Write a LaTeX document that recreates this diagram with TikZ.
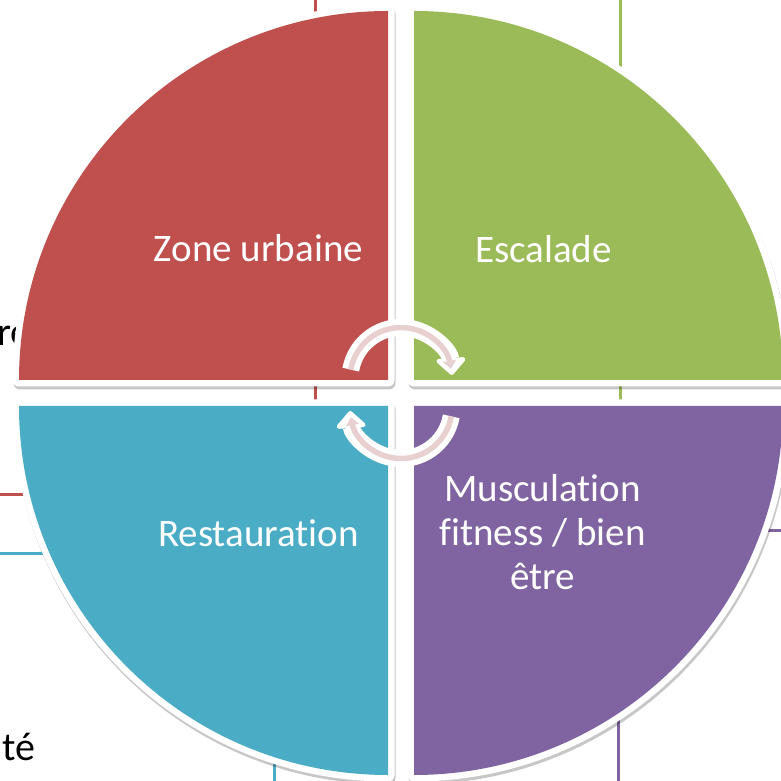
\documentclass[tikz,border=0pt]{standalone}
\usepackage{fontspec}
\setmainfont{Carlito}[Ligatures=NoCommon]
\usetikzlibrary{arrows.meta,shadows}
\definecolor{zonered}{RGB}{192,80,77}
\definecolor{escgreen}{RGB}{155,187,89}
\definecolor{restblue}{RGB}{75,172,198}
\definecolor{muscpurple}{RGB}{128,100,162}
\definecolor{arrowpink}{RGB}{232,208,208}
\begin{document}
\begin{tikzpicture}[x=1pt, y=1pt,
  quarter/.style={drop shadow={shadow xshift=1pt, shadow yshift=-3pt,
      opacity=.22, fill=black, draw=black, line width=13pt, line join=round},
    preaction={draw=white, line width=13pt, line join=round}, fill=#1},
  quartertext/.style={text=white, font=\fontsize{39}{44}\selectfont,
    align=center, inner sep=0pt},
  backbox/.style={draw=#1, line width=3pt},
  backtext/.style={font=\fontsize{40}{48}\selectfont, anchor=base west, inner sep=0pt},
  arrowband/.style={draw=white, line width=17pt,
    -{Triangle[width=34pt, length=18pt, round]}},
  arrowstripe/.style={draw=arrowpink, line width=5.5pt,
    -{Triangle[width=13pt, length=8pt]}}]
  \useasboundingbox (0,0) rectangle (781,781);
  \clip (0,0) rectangle (781,781);
  %% boxes behind the circle
  \draw[backbox=zonered] (-10,791) rectangle (315,286);
  \draw[backbox=escgreen] (620,791) rectangle (791,311);
  \draw[backbox=restblue] (-10,227) rectangle (274,-10);
  \draw[backbox=muscpurple] (618,250) rectangle (791,-10);
  \node[backtext] (hiddentop) at (-3,435) {re};
  \node[backtext] (hiddenbot) at (2,20) {té};
  %% the four quarters
  \path[quarter=zonered] (388,401) -- ++(0,369) arc[start angle=90, end angle=180, radius=369] -- cycle;
  \path[quarter=escgreen] (414,401) -- ++(369,0) arc[start angle=0, end angle=90, radius=369] -- cycle;
  \path[quarter=restblue] (388,375) -- ++(-369,0) arc[start angle=180, end angle=270, radius=369] -- cycle;
  \path[quarter=muscpurple] (414,375) -- ++(0,-369) arc[start angle=270, end angle=360, radius=369] -- cycle;
  % labels (\kern0pt keeps t and i apart)
  \node[quartertext, anchor=base] (zone) at (258.5,519) {Zone urbaine};
  \node[quartertext, anchor=base] (escalade) at (543.5,518) {Escalade};
  \node[quartertext, anchor=base] (resto) at (258.5,234) {Restaurat\kern0pt ion};
  \node[quartertext] (muscu) at (542.5,248.5) {Musculat\kern0pt ion\\fit\kern0pt ness / bien\\être};
  %% cycle arrows in the middle
  \coordinate (topturn) at (401,402.5);
  \coordinate (botturn) at (401,373.5);
  \draw[arrowband] (topturn) ++(170:51) arc[start angle=170, end angle=4, radius=51];
  \draw[arrowstripe] (topturn) ++(170:51) arc[start angle=170, end angle=11, radius=51];
  \draw[arrowband] (botturn) ++(-10:51) arc[start angle=-10, end angle=-176, radius=51];
  \draw[arrowstripe] (botturn) ++(-10:51) arc[start angle=-10, end angle=-169, radius=51];
\end{tikzpicture}
\end{document}
